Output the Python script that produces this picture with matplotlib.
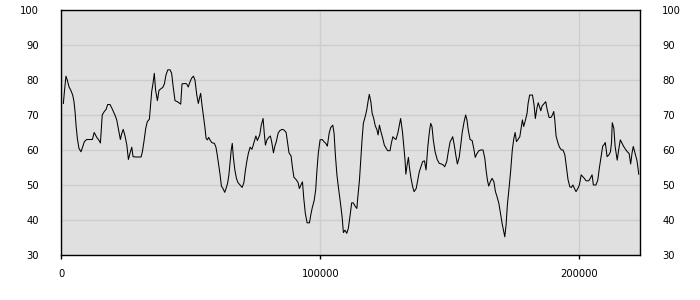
import matplotlib
matplotlib.use("Agg")
import matplotlib.pyplot as plt

# sample position and value
x_pos = [
    800, 1200, 1800, 2300, 3000, 3700, 4400, 4900, 5300, 5700, 6200, 6800, 7600, 8300, 8900,
    9800, 11100, 12000, 12700, 13700, 14600, 15100, 15800, 16600, 17300, 17900, 18800, 19500,
    20100, 20700, 21400, 22000, 22800, 23300, 23900, 24600, 25300, 25900, 26500, 27200, 27700,
    28800, 30800, 31300, 31900, 32600, 33200, 34000, 34400, 34900, 35400, 35900, 36400, 37100,
    37700, 38100, 39200, 39800, 40400, 41100, 42000, 42600, 43200, 43900, 44800, 45400, 46100,
    46600, 47800, 48400, 49000, 49700, 50300, 51000, 51600, 52300, 52900, 53400, 53800, 54300,
    54800, 55400, 55900, 56400, 56900, 57400, 58100, 59100, 59700, 60200, 60800, 61300, 61800,
    62400, 63100, 63600, 64200, 64700, 65300, 65600, 66000, 66400, 67000, 67600, 68200, 69000,
    69800, 70500, 71000, 71600, 72200, 72900, 73600, 74100, 75100, 75700, 76600, 77200, 77900,
    78300, 78800, 79400, 80100, 80700, 81200, 81900, 82400, 83000, 83700, 84300, 85200, 86000,
    86800, 87300, 87900, 88700, 89200, 89800, 90600, 91400, 91900, 92500, 93100, 93600, 94200,
    94900, 95800, 96300, 96900, 97600, 98200, 98700, 99200, 99900, 100700, 101400, 102100,
    102700, 103400, 104000, 104800, 105300, 105800, 106400, 107100, 107700, 108400, 108900,
    109500, 110200, 110800, 111500, 112100, 112700, 113400, 114100, 114400, 115100, 115600,
    116100, 116600, 117300, 117900, 118400, 118900, 119500, 120000, 120600, 121200, 121800,
    122300, 122800, 123400, 124100, 124700, 125400, 126000, 126900, 127400, 128000, 128600,
    129200, 129900, 130500, 131000, 131700, 132200, 132700, 133000, 133500, 134000, 134400,
    135000, 135700, 136200, 137000, 137600, 138200, 138900, 139500, 140200, 140800, 141500,
    142100, 142600, 143100, 143600, 144300, 145100, 145900, 146700, 147500, 148000, 148800,
    149400, 150100, 150600, 151100, 151700, 152300, 152900, 153600, 154200, 154800, 155500,
    156100, 156600, 157100, 157800, 158600, 159200, 159800, 160400, 161200, 161900, 162800,
    163500, 164000, 164500, 165000, 165600, 166300, 167000, 167600, 168200, 168900, 169500,
    170200, 170800, 171200, 171700, 172200, 172900, 173500, 174100, 174700, 175200, 175700,
    176300, 177000, 177500, 178000, 178500, 179200, 179800, 180200, 180800, 181900, 182500,
    183000, 183600, 184100, 184600, 185100, 185600, 186400, 187000, 187600, 188300, 189000,
    189600, 190100, 190500, 191000, 191700, 192300, 193100, 193700, 194400, 195000, 195600,
    196300, 196900, 197500, 198100, 198700, 199400, 200000, 200700, 201300, 201900, 202600,
    203600, 204200, 204900, 205400, 206400, 207100, 207700, 208400, 209000, 209700, 210000,
    210700, 211400, 212000, 212400, 212700, 213300, 213800, 214600, 215200, 215800, 216500,
    217100, 217800, 218500, 219200, 219800, 220300, 220800, 221500, 222200, 222700, 222900,
]
values = [
    73.3, 76.7, 81.1, 80.0, 78.0, 77.0, 75.7, 73.8, 71.0, 67.0, 63.3, 60.5, 59.5, 61.0, 62.4,
    63.0, 63.0, 63.0, 65.0, 63.6, 62.7, 62.0, 70.0, 71.0, 71.6, 73.0, 73.0, 72.0,
    71.0, 70.0, 68.6, 66.2, 63.0, 64.6, 65.9, 64.0, 61.4, 57.3, 59.0, 60.8, 58.1,
    58.0, 58.0, 59.5, 62.4, 66.2, 68.1, 68.8, 72.4, 76.7, 79.0, 81.9, 77.1, 74.1,
    77.0, 77.3, 77.9, 78.9, 81.4, 82.9, 82.9, 81.9, 78.0, 74.1, 73.8, 73.5, 73.1,
    78.9, 79.0, 78.9, 78.0, 79.5, 80.5, 81.1, 80.0, 75.7, 73.3, 75.0, 76.2, 72.9,
    70.0, 66.7, 63.3, 62.9, 63.6, 62.9, 62.1, 61.9, 60.8, 58.6, 55.4, 52.9, 49.7,
    49.0, 47.9, 49.0, 50.5, 52.9, 57.6, 60.0, 61.9, 58.1, 54.3, 51.9, 50.7, 50.0,
    49.3, 50.7, 53.8, 56.7, 59.0, 60.8, 60.2, 61.4, 64.0, 62.7, 64.3, 67.1, 69.0,
    65.2, 61.4, 62.9, 63.6, 64.0, 62.4, 59.2, 61.0, 62.4, 64.8, 65.5, 65.9, 65.7,
    65.0, 62.4, 59.2, 58.3, 55.2, 52.2, 51.6, 50.7, 49.0, 50.0, 50.9, 46.2, 41.9,
    39.2, 39.2, 41.4, 43.6, 45.5, 48.6, 54.3, 59.0, 62.9, 63.0, 62.4, 61.9,
    61.1, 64.8, 66.4, 67.1, 64.8, 58.6, 52.9, 48.6, 45.2, 40.9, 36.4,
    37.1, 36.2, 37.6, 41.4, 44.9, 44.9, 44.0, 43.3, 46.0, 51.4, 57.1,
    62.9, 67.6, 69.5, 71.4, 73.8, 75.9, 73.8, 70.5, 69.0, 66.9, 65.9,
    64.3, 67.1, 65.2, 63.3, 61.4, 60.5, 59.8, 59.8, 61.9, 63.8, 63.3,
    63.0, 64.8, 67.1, 69.0, 65.2, 61.0, 57.1, 53.1, 55.7, 57.9, 55.0,
    51.9, 49.3, 48.1, 49.0, 51.4, 53.8, 55.4, 56.7, 56.9, 54.3, 61.0,
    65.2, 67.6, 66.7, 62.9, 59.5, 57.3, 56.2, 56.0, 55.7, 55.2, 56.7,
    59.5, 62.4, 63.0, 63.8, 61.4, 58.5, 56.0, 57.9, 61.4, 65.2, 68.1,
    70.0, 68.6, 65.7, 63.0, 62.7, 60.5, 57.9, 58.9, 59.8, 60.0, 60.0,
    57.6, 54.1, 51.4, 49.7, 50.9, 51.9, 50.9, 48.1, 46.7, 44.8, 42.1,
    38.9, 36.7, 35.2, 38.6, 44.3, 49.5, 54.3, 60.0, 63.3, 65.0, 62.4,
    63.0, 63.8, 66.2, 68.6, 66.7, 68.6, 70.5, 73.3, 75.7, 75.7, 72.9,
    69.0, 71.9, 73.5, 72.4, 71.2, 72.6, 73.3, 73.8, 71.4, 69.3, 69.3,
    70.0, 71.0, 68.6, 64.0, 62.1, 60.8, 60.0, 60.0, 58.6, 55.2, 51.6,
    49.5, 49.3, 50.0, 49.0, 48.1, 49.0, 50.0, 52.9, 52.4, 51.9, 51.2,
    51.2, 51.9, 52.9, 50.0, 50.0, 51.4, 54.8, 58.1, 61.1, 61.7, 62.1,
    58.1, 58.6, 59.5, 62.1, 67.8, 66.2, 61.0, 57.1, 60.2, 62.9, 61.9,
    61.0, 60.2, 59.5, 59.0, 56.0, 59.0, 61.0, 59.0, 57.1, 54.5, 53.1,
]

x_ticks = [0, 100000, 200000]
y_ticks = [30, 40, 50, 60, 70, 80, 90, 100]

plt.rcParams['font.family'] = 'DejaVu Sans'
plt.rcParams['font.size'] = 7.2

fig = plt.figure(figsize=(7, 3), dpi=100)
ax = fig.add_axes([61.3 / 700, 45 / 300, (640 - 61.3) / 700, 245 / 300])
ax.set_facecolor('#e0e0e0')

ax.plot(x_pos, values, color='black', linewidth=0.75)

ax.set_xlim(0, 223400)
ax.set_ylim(30, 100)
ax.set_xticks(x_ticks)
ax.set_xticklabels([str(t) for t in x_ticks])
ax.set_yticks(y_ticks)
ax.grid(True, color='#cdcdcd', linewidth=1)
ax.set_axisbelow(True)

for s in ax.spines.values():
    s.set_color('black')
    s.set_linewidth(1)

ax.tick_params(axis='x', direction='out', length=3, width=1, pad=7, colors='black')
ax.tick_params(axis='y', length=0, pad=16, labelright=True, colors='black')

fig.savefig('out.png', dpi=100)
